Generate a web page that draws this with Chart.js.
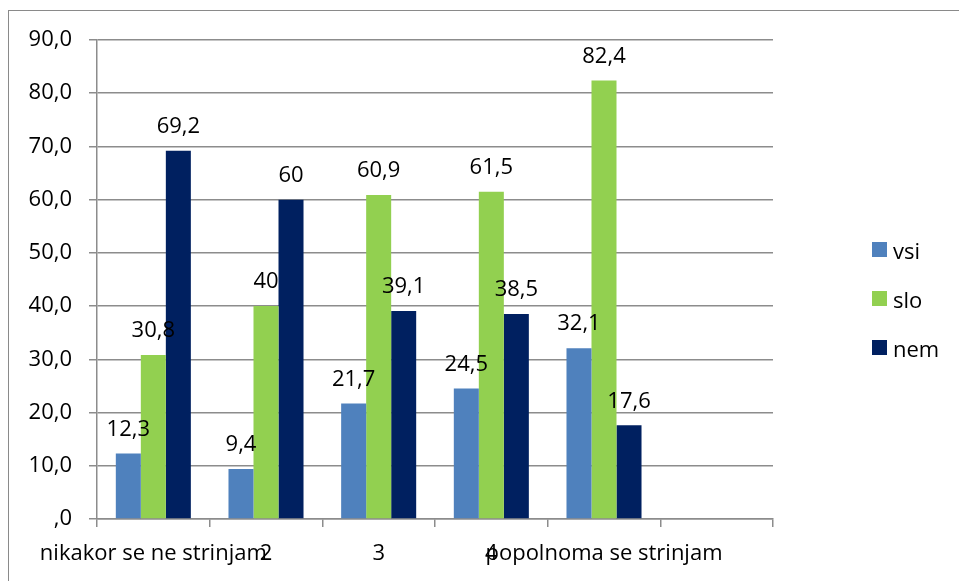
<!DOCTYPE html>
<html>
<head>
<meta charset="utf-8">
<script src="https://cdn.jsdelivr.net/npm/chart.js@4.4.1/dist/chart.umd.min.js"></script>
<style>
    html, body { margin: 0; padding: 0; background: #fff; overflow: hidden; }
    #wrap { position: relative; width: 959px; height: 581px; overflow: hidden; }
    #frame { position: absolute; left: 8px; top: 10px; width: 1000px; height: 700px; border-left: 1px solid #8a8a8a; border-top: 1px solid #8a8a8a; }
    #chart { position: absolute; left: 0; top: 0; }
    #legend { position: absolute; left: 872px; top: 235px; font-family: 'Open Sans', sans-serif; font-size: 22px; color: #000; }
    .item { height: 49px; display: flex; align-items: flex-start; }
    .box { width: 15px; height: 15px; margin-top: 7px; margin-right: 6px; }
</style>
</head>
<body>
<div id="wrap">
    <div id="frame"></div>
    <canvas id="chart" width="959" height="581"></canvas>
    <div id="legend"></div>
</div>
<script>
// categories and series
const categories = ['nikakor se ne strinjam', '2', '3', '4', 'popolnoma se strinjam', ''];
const seriesNames = ['vsi', 'slo', 'nem'];
const vsi = [12.3, 9.4, 21.7, 24.5, 32.1, null];
const slo = [30.8, 40, 60.9, 61.5, 82.4, null];
const nem = [69.2, 60, 39.1, 38.5, 17.6, null];
const colors = ['#4F81BD', '#92D050', '#002060'];

const FONT = "'Open Sans', sans-serif";
const gridColor = '#8c8c8c';

// value labels above the bars
const barLabels = {
    id: 'barLabels',
    afterDatasetsDraw(chart) {
        const ctx = chart.ctx;
        ctx.save();
        ctx.font = '22px ' + FONT;
        ctx.fillStyle = '#000';
        ctx.textAlign = 'center';
        ctx.textBaseline = 'middle';
        chart.data.datasets.forEach((ds, i) => {
            chart.getDatasetMeta(i).data.forEach((bar, j) => {
                const v = ds.data[j];
                if (v === null) return;
                ctx.fillText(String(v).replace('.', ','), bar.x, bar.y - 24);
            });
        });
        ctx.restore();
    }
};

function initChart() {
    const ctx = document.getElementById('chart').getContext('2d');
    const data = [vsi, slo, nem];

    new Chart(ctx, {
        type: 'bar',
        data: {
            labels: categories,
            datasets: seriesNames.map((name, i) => ({
                label: name,
                data: data[i],
                backgroundColor: colors[i],
                categoryPercentage: 0.666,
                barPercentage: 1.0
            }))
        },
        options: {
            responsive: false,
            animation: false,
            layout: { padding: { left: 0, right: 186, top: 40, bottom: 0 } },
            plugins: {
                legend: { display: false },
                tooltip: { enabled: false }
            },
            scales: {
                x: {
                    afterFit: (scale) => { scale.height = 62; },
                    // only the small tick marks between categories
                    grid: { offset: true, drawOnChartArea: false, drawTicks: true, tickLength: 8, color: 'rgba(0,0,0,0)', tickColor: gridColor, lineWidth: 1.5, tickWidth: 1.5 },
                    border: { display: true, color: gridColor, width: 1.5 },
                    ticks: { font: { family: FONT, size: 22 }, color: '#000', padding: 14, maxRotation: 0, autoSkip: false }
                },
                y: {
                    min: 0,
                    max: 90,
                    afterFit: (scale) => { scale.width = 97; },
                    grid: { color: gridColor, lineWidth: 1.5, tickLength: 8 },
                    border: { display: true, color: gridColor, width: 1.5 },
                    ticks: {
                        stepSize: 10,
                        padding: 17,
                        color: '#000',
                        font: { family: FONT, size: 22 },
                        callback: (v) => v === 0 ? ',0' : v.toFixed(1).replace('.', ',')
                    }
                }
            }
        },
        plugins: [barLabels]
    });

    // legend on the right
    const legend = document.getElementById('legend');
    seriesNames.forEach((name, i) => {
        const item = document.createElement('div');
        item.className = 'item';
        item.innerHTML = '<div class="box" style="background:' + colors[i] + '"></div><span>' + name + '</span>';
        legend.appendChild(item);
    });
}

window.onload = initChart;
</script>
</body>
</html>
